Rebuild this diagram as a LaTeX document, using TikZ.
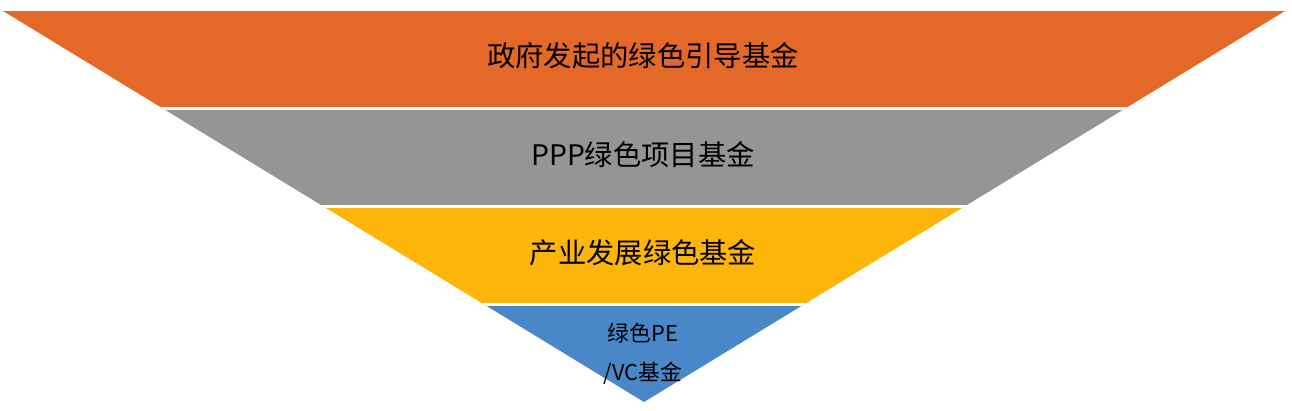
\documentclass[tikz,border=0pt]{standalone}
\usepackage{fontspec}
\newfontfamily\cjk{Noto Sans CJK SC}
\definecolor{bandorange}{RGB}{228,104,39}
\definecolor{bandgray}{RGB}{149,149,149}
\definecolor{bandyellow}{RGB}{253,181,10}
\definecolor{bandblue}{RGB}{74,135,200}
\tikzset{
  bandtext/.style={font=\cjk\fontsize{28.3}{32}\selectfont, text=black, inner sep=0pt},
  smalltext/.style={font=\cjk\fontsize{21.8}{40}\selectfont, text=black, inner sep=0pt, align=center},
  gapline/.style={white, line width=2.8pt}
}
\begin{document}
\begin{tikzpicture}[x=1pt,y=-1pt]
\useasboundingbox[fill=white] (0,0) rectangle (1292,410);
\coordinate (tl) at (3,11);
\coordinate (tr) at (1285,11);
\coordinate (ap) at (644,402);
\begin{scope}
  \clip (tl) -- (tr) -- (ap) -- cycle;
  \fill[bandorange] (0,0) rectangle (1292,108.1);
  \fill[bandgray] (0,108.1) rectangle (1292,206.2);
  \fill[bandyellow] (0,206.2) rectangle (1292,304.5);
  \fill[bandblue] (0,304.5) rectangle (1292,410);
  \draw[gapline] (0,108.1) -- (1292,108.1);
  \draw[gapline] (0,206.2) -- (1292,206.2);
  \draw[gapline] (0,304.5) -- (1292,304.5);
\end{scope}
\node[bandtext] (t1) at (643,55.5) {政府发起的绿色引导基金};
\node[bandtext] (t2) at (643,155) {PPP绿色项目基金};
\node[bandtext] (t3) at (643,253) {产业发展绿色基金};
\node[smalltext] (t4a) at (643,333) {绿色PE};
\node[smalltext] (t4b) at (643,373) {/VC基金};
\end{tikzpicture}
\end{document}
